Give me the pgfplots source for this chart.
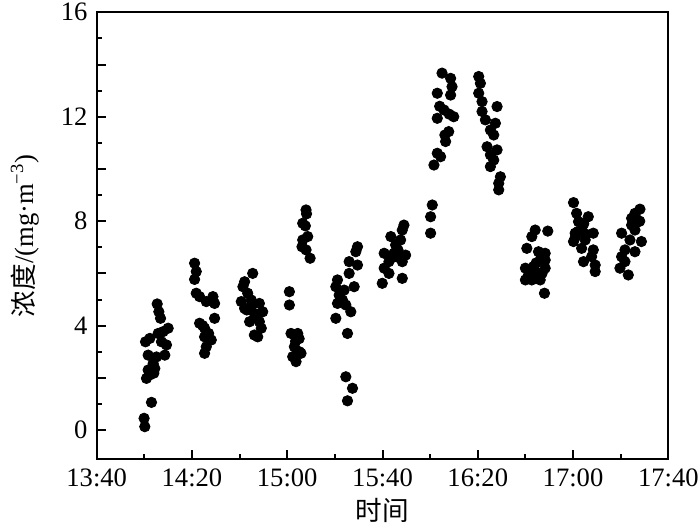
\documentclass[border=0pt]{standalone}
\usepackage{fontspec}
\setmainfont{Liberation Serif}
\newfontfamily\cjk{Noto Sans CJK SC}
\usepackage{pgfplots}
\pgfplotsset{compat=1.18}
\usetikzlibrary{calc}
\begin{document}
\fontsize{13.3}{16}\selectfont
\begin{tikzpicture}
\begin{axis}[
  scale only axis, width=285.8pt, height=223.5pt,
  xmin=820, xmax=1060, ymin=-1.12, ymax=16,
  xtick={820,860,...,1060},
  xticklabels={13:40,14:20,15:00,15:40,16:20,17:00,17:40},
  minor x tick num=1,
  ytick={0,2,...,16}, yticklabels={0,,4,,8,,12,,16},
  minor y tick num=1,
  tick align=inside, tick pos=left,
  major tick length=4.6pt, minor tick length=2.6pt,
  axis line style={line width=1pt},
  every tick/.style={line width=1pt, black},
  /pgf/number format/assume math mode=true,
  tick label style={font=\fontsize{13.3}{16}\selectfont},
  label style={font=\fontsize{13.3}{16}\selectfont},
  xlabel={\cjk 时间},
  ylabel={{\cjk 浓度}/(mg·m\textsuperscript{−3})},
  xlabel style={at={(axis description cs:0.5,-0.1134)}, anchor=center},
  ylabel style={at={(axis description cs:-0.1254,0.5)}, anchor=center},
]
\addplot[only marks, mark=*, mark size=2.6pt, black] coordinates {
% cluster 1
(840.2,0.13) (839.9,0.45) (843.0,1.06) (840.9,1.98) (842.3,2.11) (844.0,2.18)
(841.6,2.30) (844.4,2.36) (843.7,2.55) (841.6,2.87) (845.1,2.80) (848.6,2.87)
(840.5,3.38) (842.3,3.51) (847.2,3.38) (849.3,3.26) (845.8,3.70) (850.0,3.90)
(847.9,3.77) (846.8,4.28) (846.1,4.53) (845.4,4.83)
% cluster 2
(861.1,6.39) (861.8,6.07) (861.1,5.77) (861.8,5.24) (863.2,5.11) (866.0,4.92)
(868.8,5.11) (869.5,4.85) (863.2,4.09) (865.3,3.90) (869.5,4.28) (865.3,3.57)
(868.1,3.45) (866.0,3.19) (865.3,2.94) (864.5,4.00) (867.0,3.70)
% cluster 3
(885.5,6.00) (882.1,5.68) (881.4,5.49) (883.4,5.24) (880.7,4.92) (884.9,4.98)
(888.3,4.85) (882.1,4.66) (889.7,4.53) (886.2,4.47) (884.2,4.15) (888.3,4.15)
(889.1,3.90) (887.6,3.57) (886.2,3.64) (883.0,4.60) (885.0,4.80) (886.8,4.30)
% cluster 4
(907.9,8.43) (908.1,8.28) (906.5,7.92) (907.6,7.82) (908.6,7.41) (906.5,7.28)
(906.2,7.02) (907.9,6.90) (909.6,6.58)
(900.9,5.30) (900.9,4.79) (901.6,3.70) (904.4,3.70) (903.0,3.19) (905.1,3.00)
(902.3,2.81) (903.7,2.62) (905.8,2.94) (903.5,3.40) (905.0,3.50)
% cluster 5
(929.5,7.02) (928.8,6.83) (926.0,6.45) (929.5,6.32) (926.0,6.00) (921.1,5.75)
(920.4,5.49) (928.1,5.49) (923.9,5.36) (921.8,5.17) (923.2,4.98) (921.1,4.85)
(924.6,4.79) (926.7,4.53) (920.4,4.28) (925.3,3.70) (924.6,2.04) (927.4,1.60)
(925.3,1.12)
% cluster 6
(949.0,7.85) (948.3,7.66) (943.5,7.41) (947.6,7.28) (945.5,7.09) (940.7,6.77)
(944.8,6.77) (949.7,6.70) (942.7,6.45) (948.3,6.45) (940.7,6.20) (942.7,6.00)
(948.3,5.81) (939.9,5.62) (946.5,6.90) (947.0,6.60) (944.0,6.60)
% cluster 7
(960.9,8.62) (960.2,8.17) (960.2,7.54)
(965.0,13.67) (968.6,13.47) (969.2,13.15) (963.0,12.90) (968.6,12.83)
(965.8,12.26) (969.9,12.00) (963.0,11.94) (967.8,11.43) (966.5,11.05)
(963.0,10.60) (964.4,10.47) (961.6,10.15) (964.0,12.40) (968.0,12.10)
(966.2,11.30)
% cluster 8
(980.4,13.54) (981.1,13.28) (980.4,12.90) (981.8,12.58) (988.1,12.39)
(981.8,12.20) (983.2,11.88) (987.4,11.75) (985.3,11.49) (986.7,11.30)
(983.9,10.85) (988.1,10.73) (985.3,10.54) (986.7,10.34) (985.3,10.09)
(989.5,9.70) (988.8,9.45) (988.8,9.20)
% cluster 9
(1004.1,7.66) (1009.4,7.62) (1002.7,7.41) (1000.6,6.96) (1005.5,6.83)
(1008.3,6.77) (1006.2,6.51) (1008.3,6.51) (1000.0,6.20) (1003.4,6.26)
(1008.3,6.20) (1001.3,5.94) (1005.5,6.01) (1000.0,5.75) (1002.7,5.75)
(1006.2,5.75) (1008.0,5.24) (1004.5,6.40) (1002.0,6.10) (1007.0,6.00)
% cluster 10
(1020.2,8.71) (1021.5,8.30) (1026.4,8.17) (1022.3,7.98) (1023.6,7.73)
(1020.9,7.54) (1028.5,7.54) (1020.2,7.22) (1025.1,7.28) (1023.6,6.96)
(1028.5,6.90) (1027.8,6.64) (1024.4,6.45) (1029.3,6.32) (1029.3,6.07)
(1022.0,7.60) (1025.5,7.50) (1021.0,7.40) (1024.5,7.90)
% cluster 11
(1048.1,8.46) (1046.0,8.30) (1044.6,8.11) (1047.4,7.98) (1044.6,7.85)
(1046.0,7.66) (1040.4,7.54) (1048.7,7.22) (1043.9,7.28) (1041.8,6.90)
(1046.0,6.83) (1040.4,6.64) (1041.8,6.45) (1039.7,6.20) (1043.2,5.94)
(1046.5,8.10) (1048.0,8.00) (1045.5,7.90)
};
\end{axis}
\pgfresetboundingbox
\path ($(current axis.south west)+(-48.35pt,-34.85pt)$) rectangle ($(current axis.north east)+(15.85pt,6.15pt)$);
\end{tikzpicture}
\end{document}
